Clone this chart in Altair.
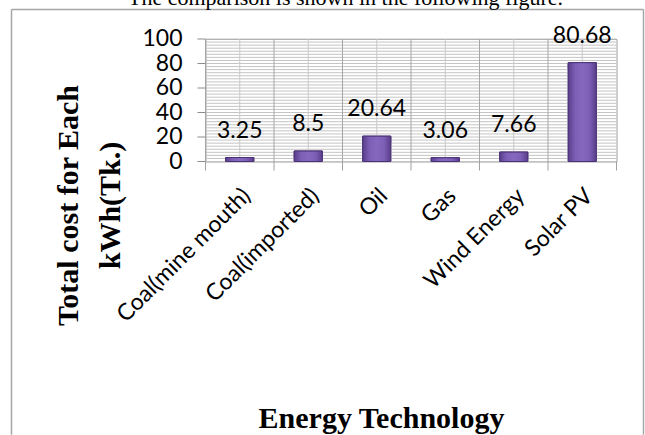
import altair as alt
import pandas as pd

# Levelised generation cost per kWh (Tk.) by technology
technologies = ["Coal(mine mouth)", "Coal(imported)", "Oil", "Gas", "Wind Energy", "Solar PV"]
cost_per_kwh = [3.25, 8.5, 20.64, 3.06, 7.66, 80.68]
cost_labels = ["3.25", "8.5", "20.64", "3.06", "7.66", "80.68"]
y_major = [0, 20, 40, 60, 80, 100]
y_minor_step = 2.5

df = pd.DataFrame({"tech": technologies, "cost": cost_per_kwh, "label": cost_labels})
grid_df = pd.DataFrame({"v": [i * y_minor_step for i in range(int(100 / y_minor_step) + 1)]})
major_df = pd.DataFrame({"v": y_major, "lbl": [str(v) for v in y_major]})

W, H = 411, 122.5
# frame edges in plot coordinates
FL, FR, FT, FB = -194, 438, -29.5, 395.75

LABEL_FONT = "Lato"
TITLE_FONT = "Liberation Serif"

x_band = alt.X("tech:N", sort=technologies,
               scale=alt.Scale(paddingInner=0, paddingOuter=0), axis=None)
x_plain = alt.X("tech:N", sort=technologies, axis=None)
x_edge = alt.X("tech:N", sort=technologies, bandPosition=0, axis=None)
y_scale = alt.Scale(domain=[0, 100], nice=False, zero=True)

base = alt.Chart(df)
one_row = alt.Data(values=[{"k": 1}])

# --- grid, ticks and axis text drawn as marks on the shared scales ---
h_grid = alt.Chart(grid_df).mark_rule(color="#C4C4C4", strokeWidth=1).encode(
    y=alt.Y("v:Q", scale=y_scale, axis=None))
cell_edges = base.mark_rule(color="#A6A6A6", strokeWidth=1).encode(x=x_edge)
centre_lines = base.mark_rule(color="#C8C8C8", strokeWidth=1).encode(x=x_plain)

y_ticks = alt.Chart(major_df).mark_rule(color="#8C8C8C", strokeWidth=1).encode(
    y=alt.Y("v:Q", scale=y_scale, axis=None), x=alt.value(-8), x2=alt.value(0))
y_tick_labels = alt.Chart(major_df).mark_text(
    font=LABEL_FONT, fontSize=23, color="black", align="right", baseline="middle",
).encode(y=alt.Y("v:Q", scale=y_scale, axis=None), x=alt.value(-23), text="lbl:N")

x_ticks = base.mark_rule(color="#A0A0A0", strokeWidth=1).encode(
    x=x_edge, y=alt.value(H), y2=alt.value(H + 9))
x_tick_last = alt.Chart(one_row).mark_rule(color="#A0A0A0", strokeWidth=1).encode(
    x=alt.value(W), y=alt.value(H), y2=alt.value(H + 9))
x_tick_labels = base.mark_text(
    font=LABEL_FONT, fontSize=23, color="black", angle=315,
    align="right", baseline="middle", dx=10,
).encode(x=x_plain, y=alt.value(H + 38), text="tech:N")

y_title = alt.Chart(one_row).mark_text(
    text=["Total cost for Each", "kWh(Tk.)"],
    font=TITLE_FONT, fontSize=30, fontWeight="bold", color="black",
    angle=270, lineHeight=42, align="center", baseline="middle",
).encode(x=alt.value(-137), y=alt.value(166.5))
x_title = alt.Chart(one_row).mark_text(
    text="Energy Technology",
    font=TITLE_FONT, fontSize=30, fontWeight="bold", color="black",
    align="center", baseline="alphabetic",
).encode(x=alt.value(176), y=alt.value(H + 266))

# --- bars with a lighter bevelled top ---
bar_fill = alt.Gradient(
    gradient="linear", x1=0, x2=1, y1=0, y2=0,
    stops=[
        alt.GradientStop(color="#5A3E8C", offset=0),
        alt.GradientStop(color="#7E5FB6", offset=0.25),
        alt.GradientStop(color="#8668BE", offset=0.5),
        alt.GradientStop(color="#7E5FB6", offset=0.75),
        alt.GradientStop(color="#5A3E8C", offset=1),
    ],
)
cap_fill = alt.Gradient(
    gradient="linear", x1=0, x2=1, y1=0, y2=0,
    stops=[
        alt.GradientStop(color="#8C72C4", offset=0),
        alt.GradientStop(color="#B29BE0", offset=0.5),
        alt.GradientStop(color="#8C72C4", offset=1),
    ],
)

bars = base.mark_bar(
    fill=bar_fill, stroke="#4A3276", strokeWidth=1,
    width=alt.RelativeBandSize(0.41),
).encode(
    x=x_band,
    y=alt.Y("cost:Q", scale=y_scale, axis=None),
)

caps = base.transform_calculate(
    cap_base="max(datum.cost - 5.5, 0)"
).mark_bar(
    fill=cap_fill, stroke="#4A3276", strokeWidth=0.6,
    width=alt.RelativeBandSize(0.41),
).encode(
    x=x_plain,
    y=alt.Y("cost:Q", scale=y_scale, axis=None),
    y2="cap_base:Q",
)

value_labels = base.mark_text(
    font=LABEL_FONT, fontSize=23, color="black", baseline="bottom", dy=-15,
).encode(
    x=x_plain,
    y=alt.Y("cost:Q", scale=y_scale, axis=None),
    text="label:N",
)

# --- outer chart frame (left, top, right edges) and the body text above it ---
frame_style = dict(color="#A6A6A6", strokeWidth=1.5)
frame_left = alt.Chart(one_row).mark_rule(**frame_style).encode(
    x=alt.value(FL), y=alt.value(FT), y2=alt.value(FB))
frame_right = alt.Chart(one_row).mark_rule(**frame_style).encode(
    x=alt.value(FR), y=alt.value(FT), y2=alt.value(FB))
frame_top = alt.Chart(one_row).mark_rule(**frame_style).encode(
    x=alt.value(FL), x2=alt.value(FR), y=alt.value(FT))
body_text = alt.Chart(one_row).mark_text(
    text="The comparison is shown in the following figure.",
    font=TITLE_FONT, fontSize=22, color="black", align="center", baseline="alphabetic",
).encode(x=alt.value(140), y=alt.value(-34.5))

chart = alt.layer(
    bars, h_grid, cell_edges, centre_lines, caps, bars, value_labels,
    y_ticks, y_tick_labels, x_ticks, x_tick_last, x_tick_labels,
    y_title, x_title,
    frame_left, frame_right, frame_top, body_text,
).properties(
    width=W, height=H,
    padding={"left": 10.5, "top": -14, "right": 0, "bottom": 0},
).configure_view(
    stroke="#A0A0A0", strokeWidth=1,
)

chart.save("out.html", embed_options={"renderer": "svg", "actions": False})
